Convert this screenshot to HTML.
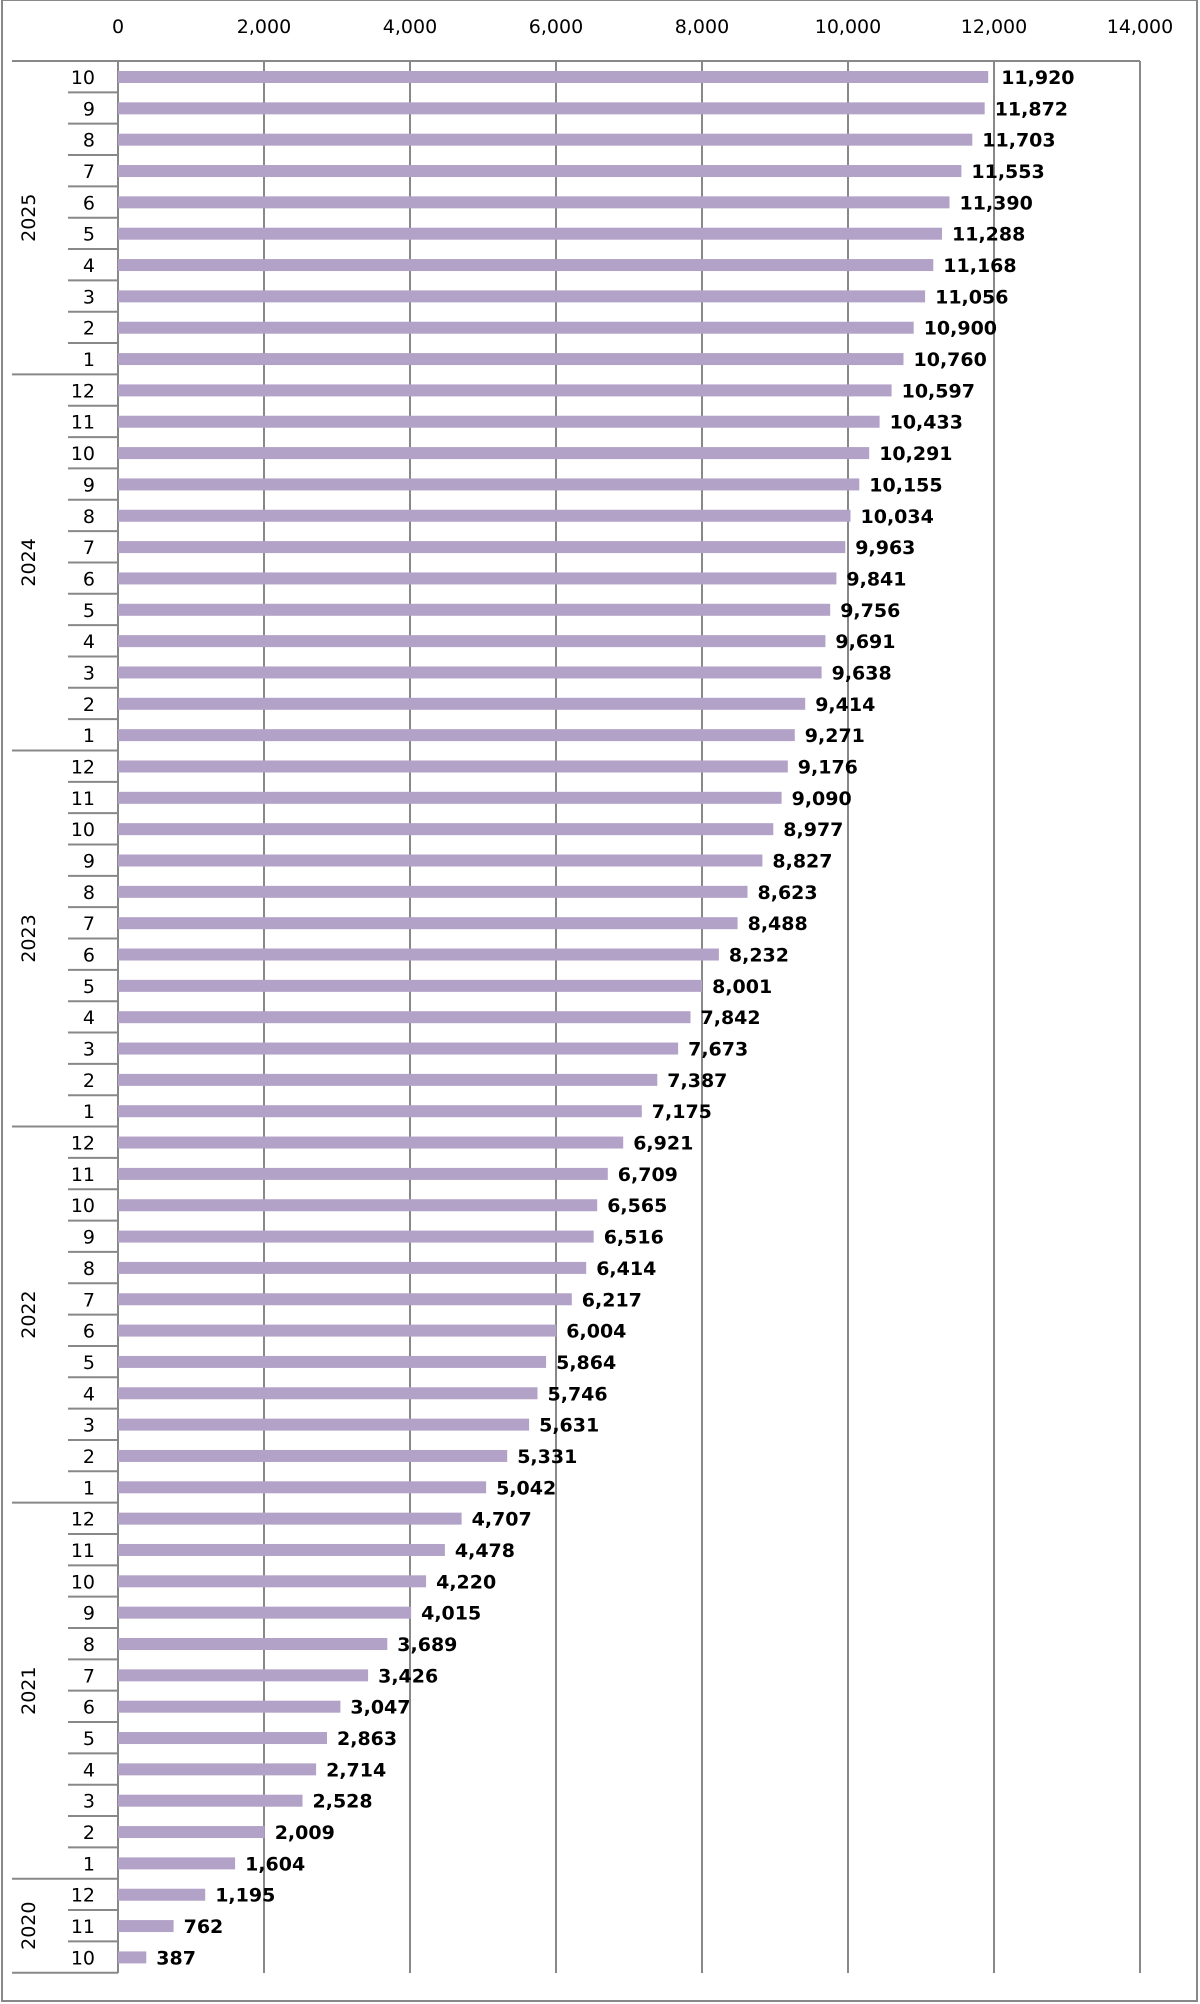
<!DOCTYPE html>
<html><head><meta charset="utf-8"><style>
html,body{margin:0;padding:0;background:#fff;}
svg{display:block;}
.m{font:19px "DejaVu Sans","Liberation Sans",sans-serif;fill:#000;text-anchor:end;}
.v{font:bold 19px "DejaVu Sans","Liberation Sans",sans-serif;fill:#000;}
.a{font:19px "DejaVu Sans","Liberation Sans",sans-serif;fill:#000;text-anchor:middle;}
.y{font:19px "DejaVu Sans","Liberation Sans",sans-serif;fill:#000;text-anchor:middle;}
rect.b{fill:#b3a2c7;}
</style></head><body>
<svg width="1200" height="2004" xmlns="http://www.w3.org/2000/svg">
<rect x="2" y="0" width="1195" height="2001" fill="#fff" stroke="#888" stroke-width="2"/>
<g stroke="#888" stroke-width="2">
<line x1="118" y1="61" x2="118" y2="1973"/>
<line x1="264" y1="61" x2="264" y2="1973"/>
<line x1="410" y1="61" x2="410" y2="1973"/>
<line x1="556" y1="61" x2="556" y2="1973"/>
<line x1="702" y1="61" x2="702" y2="1973"/>
<line x1="848" y1="61" x2="848" y2="1973"/>
<line x1="994" y1="61" x2="994" y2="1973"/>
<line x1="1140" y1="61" x2="1140" y2="1973"/>
<line x1="12" y1="61" x2="1140" y2="61"/>
</g>
<g class="a">
<text x="118" y="33">0</text><text x="264" y="33">2,000</text><text x="410" y="33">4,000</text><text x="556" y="33">6,000</text><text x="702" y="33">8,000</text><text x="848" y="33">10,000</text><text x="994" y="33">12,000</text><text x="1140" y="33">14,000</text>
</g>
<g stroke="#888" stroke-width="2">
<line x1="12" y1="374.4" x2="118" y2="374.4"/><line x1="12" y1="750.48" x2="118" y2="750.48"/><line x1="12" y1="1126.56" x2="118" y2="1126.56"/><line x1="12" y1="1502.64" x2="118" y2="1502.64"/><line x1="12" y1="1878.72" x2="118" y2="1878.72"/><line x1="12" y1="1972.74" x2="118" y2="1972.74"/>
</g>
<g class="y">
<text transform="translate(35,217.7) rotate(-90)">2025</text>
<text transform="translate(35,562.4) rotate(-90)">2024</text>
<text transform="translate(35,938.5) rotate(-90)">2023</text>
<text transform="translate(35,1314.6) rotate(-90)">2022</text>
<text transform="translate(35,1690.7) rotate(-90)">2021</text>
<text transform="translate(35,1925.7) rotate(-90)">2020</text>
</g>
<g id="rows">
<g transform="translate(0,61)"><rect class="b" x="118" y="10" width="870.2" height="12"/><text class="m" x="95" y="23">10</text><text class="v" x="131" y="23" transform="translate(870.2)">11,920</text></g>
<g transform="translate(0,92.34)"><line x1="68" x2="118" y1="0" y2="0" stroke="#888" stroke-width="2"/><rect class="b" x="118" y="10" width="866.7" height="12"/><text class="m" x="95" y="23">9</text><text class="v" x="128" y="23" transform="translate(866.7)">11,872</text></g>
<g transform="translate(0,123.68)"><line x1="68" x2="118" y1="0" y2="0" stroke="#888" stroke-width="2"/><rect class="b" x="118" y="10" width="854.3" height="12"/><text class="m" x="95" y="23">8</text><text class="v" x="128" y="23" transform="translate(854.3)">11,703</text></g>
<g transform="translate(0,155.02)"><line x1="68" x2="118" y1="0" y2="0" stroke="#888" stroke-width="2"/><rect class="b" x="118" y="10" width="843.4" height="12"/><text class="m" x="95" y="23">7</text><text class="v" x="128" y="23" transform="translate(843.4)">11,553</text></g>
<g transform="translate(0,186.36)"><line x1="68" x2="118" y1="0" y2="0" stroke="#888" stroke-width="2"/><rect class="b" x="118" y="10" width="831.5" height="12"/><text class="m" x="95" y="23">6</text><text class="v" x="128" y="23" transform="translate(831.5)">11,390</text></g>
<g transform="translate(0,217.7)"><line x1="68" x2="118" y1="0" y2="0" stroke="#888" stroke-width="2"/><rect class="b" x="118" y="10" width="824.0" height="12"/><text class="m" x="95" y="23">5</text><text class="v" x="128" y="23" transform="translate(824.0)">11,288</text></g>
<g transform="translate(0,249.04)"><line x1="68" x2="118" y1="0" y2="0" stroke="#888" stroke-width="2"/><rect class="b" x="118" y="10" width="815.3" height="12"/><text class="m" x="95" y="23">4</text><text class="v" x="128" y="23" transform="translate(815.3)">11,168</text></g>
<g transform="translate(0,280.38)"><line x1="68" x2="118" y1="0" y2="0" stroke="#888" stroke-width="2"/><rect class="b" x="118" y="10" width="807.1" height="12"/><text class="m" x="95" y="23">3</text><text class="v" x="128" y="23" transform="translate(807.1)">11,056</text></g>
<g transform="translate(0,311.72)"><line x1="68" x2="118" y1="0" y2="0" stroke="#888" stroke-width="2"/><rect class="b" x="118" y="10" width="795.7" height="12"/><text class="m" x="95" y="23">2</text><text class="v" x="128" y="23" transform="translate(795.7)">10,900</text></g>
<g transform="translate(0,343.06)"><line x1="68" x2="118" y1="0" y2="0" stroke="#888" stroke-width="2"/><rect class="b" x="118" y="10" width="785.5" height="12"/><text class="m" x="95" y="23">1</text><text class="v" x="128" y="23" transform="translate(785.5)">10,760</text></g>
<g transform="translate(0,374.4)"><rect class="b" x="118" y="10" width="773.6" height="12"/><text class="m" x="95" y="23">12</text><text class="v" x="128" y="23" transform="translate(773.6)">10,597</text></g>
<g transform="translate(0,405.74)"><line x1="68" x2="118" y1="0" y2="0" stroke="#888" stroke-width="2"/><rect class="b" x="118" y="10" width="761.6" height="12"/><text class="m" x="95" y="23">11</text><text class="v" x="128" y="23" transform="translate(761.6)">10,433</text></g>
<g transform="translate(0,437.08)"><line x1="68" x2="118" y1="0" y2="0" stroke="#888" stroke-width="2"/><rect class="b" x="118" y="10" width="751.2" height="12"/><text class="m" x="95" y="23">10</text><text class="v" x="128" y="23" transform="translate(751.2)">10,291</text></g>
<g transform="translate(0,468.42)"><line x1="68" x2="118" y1="0" y2="0" stroke="#888" stroke-width="2"/><rect class="b" x="118" y="10" width="741.3" height="12"/><text class="m" x="95" y="23">9</text><text class="v" x="128" y="23" transform="translate(741.3)">10,155</text></g>
<g transform="translate(0,499.76)"><line x1="68" x2="118" y1="0" y2="0" stroke="#888" stroke-width="2"/><rect class="b" x="118" y="10" width="732.5" height="12"/><text class="m" x="95" y="23">8</text><text class="v" x="128" y="23" transform="translate(732.5)">10,034</text></g>
<g transform="translate(0,531.1)"><line x1="68" x2="118" y1="0" y2="0" stroke="#888" stroke-width="2"/><rect class="b" x="118" y="10" width="727.3" height="12"/><text class="m" x="95" y="23">7</text><text class="v" x="128" y="23" transform="translate(727.3)">9,963</text></g>
<g transform="translate(0,562.44)"><line x1="68" x2="118" y1="0" y2="0" stroke="#888" stroke-width="2"/><rect class="b" x="118" y="10" width="718.4" height="12"/><text class="m" x="95" y="23">6</text><text class="v" x="128" y="23" transform="translate(718.4)">9,841</text></g>
<g transform="translate(0,593.78)"><line x1="68" x2="118" y1="0" y2="0" stroke="#888" stroke-width="2"/><rect class="b" x="118" y="10" width="712.2" height="12"/><text class="m" x="95" y="23">5</text><text class="v" x="128" y="23" transform="translate(712.2)">9,756</text></g>
<g transform="translate(0,625.12)"><line x1="68" x2="118" y1="0" y2="0" stroke="#888" stroke-width="2"/><rect class="b" x="118" y="10" width="707.4" height="12"/><text class="m" x="95" y="23">4</text><text class="v" x="128" y="23" transform="translate(707.4)">9,691</text></g>
<g transform="translate(0,656.46)"><line x1="68" x2="118" y1="0" y2="0" stroke="#888" stroke-width="2"/><rect class="b" x="118" y="10" width="703.6" height="12"/><text class="m" x="95" y="23">3</text><text class="v" x="128" y="23" transform="translate(703.6)">9,638</text></g>
<g transform="translate(0,687.8)"><line x1="68" x2="118" y1="0" y2="0" stroke="#888" stroke-width="2"/><rect class="b" x="118" y="10" width="687.2" height="12"/><text class="m" x="95" y="23">2</text><text class="v" x="128" y="23" transform="translate(687.2)">9,414</text></g>
<g transform="translate(0,719.14)"><line x1="68" x2="118" y1="0" y2="0" stroke="#888" stroke-width="2"/><rect class="b" x="118" y="10" width="676.8" height="12"/><text class="m" x="95" y="23">1</text><text class="v" x="128" y="23" transform="translate(676.8)">9,271</text></g>
<g transform="translate(0,750.48)"><rect class="b" x="118" y="10" width="669.8" height="12"/><text class="m" x="95" y="23">12</text><text class="v" x="128" y="23" transform="translate(669.8)">9,176</text></g>
<g transform="translate(0,781.82)"><line x1="68" x2="118" y1="0" y2="0" stroke="#888" stroke-width="2"/><rect class="b" x="118" y="10" width="663.6" height="12"/><text class="m" x="95" y="23">11</text><text class="v" x="128" y="23" transform="translate(663.6)">9,090</text></g>
<g transform="translate(0,813.16)"><line x1="68" x2="118" y1="0" y2="0" stroke="#888" stroke-width="2"/><rect class="b" x="118" y="10" width="655.3" height="12"/><text class="m" x="95" y="23">10</text><text class="v" x="128" y="23" transform="translate(655.3)">8,977</text></g>
<g transform="translate(0,844.5)"><line x1="68" x2="118" y1="0" y2="0" stroke="#888" stroke-width="2"/><rect class="b" x="118" y="10" width="644.4" height="12"/><text class="m" x="95" y="23">9</text><text class="v" x="128" y="23" transform="translate(644.4)">8,827</text></g>
<g transform="translate(0,875.84)"><line x1="68" x2="118" y1="0" y2="0" stroke="#888" stroke-width="2"/><rect class="b" x="118" y="10" width="629.5" height="12"/><text class="m" x="95" y="23">8</text><text class="v" x="128" y="23" transform="translate(629.5)">8,623</text></g>
<g transform="translate(0,907.18)"><line x1="68" x2="118" y1="0" y2="0" stroke="#888" stroke-width="2"/><rect class="b" x="118" y="10" width="619.6" height="12"/><text class="m" x="95" y="23">7</text><text class="v" x="128" y="23" transform="translate(619.6)">8,488</text></g>
<g transform="translate(0,938.52)"><line x1="68" x2="118" y1="0" y2="0" stroke="#888" stroke-width="2"/><rect class="b" x="118" y="10" width="600.9" height="12"/><text class="m" x="95" y="23">6</text><text class="v" x="128" y="23" transform="translate(600.9)">8,232</text></g>
<g transform="translate(0,969.86)"><line x1="68" x2="118" y1="0" y2="0" stroke="#888" stroke-width="2"/><rect class="b" x="118" y="10" width="584.1" height="12"/><text class="m" x="95" y="23">5</text><text class="v" x="128" y="23" transform="translate(584.1)">8,001</text></g>
<g transform="translate(0,1001.2)"><line x1="68" x2="118" y1="0" y2="0" stroke="#888" stroke-width="2"/><rect class="b" x="118" y="10" width="572.5" height="12"/><text class="m" x="95" y="23">4</text><text class="v" x="128" y="23" transform="translate(572.5)">7,842</text></g>
<g transform="translate(0,1032.54)"><line x1="68" x2="118" y1="0" y2="0" stroke="#888" stroke-width="2"/><rect class="b" x="118" y="10" width="560.1" height="12"/><text class="m" x="95" y="23">3</text><text class="v" x="128" y="23" transform="translate(560.1)">7,673</text></g>
<g transform="translate(0,1063.88)"><line x1="68" x2="118" y1="0" y2="0" stroke="#888" stroke-width="2"/><rect class="b" x="118" y="10" width="539.3" height="12"/><text class="m" x="95" y="23">2</text><text class="v" x="128" y="23" transform="translate(539.3)">7,387</text></g>
<g transform="translate(0,1095.22)"><line x1="68" x2="118" y1="0" y2="0" stroke="#888" stroke-width="2"/><rect class="b" x="118" y="10" width="523.8" height="12"/><text class="m" x="95" y="23">1</text><text class="v" x="128" y="23" transform="translate(523.8)">7,175</text></g>
<g transform="translate(0,1126.56)"><rect class="b" x="118" y="10" width="505.2" height="12"/><text class="m" x="95" y="23">12</text><text class="v" x="128" y="23" transform="translate(505.2)">6,921</text></g>
<g transform="translate(0,1157.9)"><line x1="68" x2="118" y1="0" y2="0" stroke="#888" stroke-width="2"/><rect class="b" x="118" y="10" width="489.8" height="12"/><text class="m" x="95" y="23">11</text><text class="v" x="128" y="23" transform="translate(489.8)">6,709</text></g>
<g transform="translate(0,1189.24)"><line x1="68" x2="118" y1="0" y2="0" stroke="#888" stroke-width="2"/><rect class="b" x="118" y="10" width="479.2" height="12"/><text class="m" x="95" y="23">10</text><text class="v" x="128" y="23" transform="translate(479.2)">6,565</text></g>
<g transform="translate(0,1220.58)"><line x1="68" x2="118" y1="0" y2="0" stroke="#888" stroke-width="2"/><rect class="b" x="118" y="10" width="475.7" height="12"/><text class="m" x="95" y="23">9</text><text class="v" x="128" y="23" transform="translate(475.7)">6,516</text></g>
<g transform="translate(0,1251.92)"><line x1="68" x2="118" y1="0" y2="0" stroke="#888" stroke-width="2"/><rect class="b" x="118" y="10" width="468.2" height="12"/><text class="m" x="95" y="23">8</text><text class="v" x="128" y="23" transform="translate(468.2)">6,414</text></g>
<g transform="translate(0,1283.26)"><line x1="68" x2="118" y1="0" y2="0" stroke="#888" stroke-width="2"/><rect class="b" x="118" y="10" width="453.8" height="12"/><text class="m" x="95" y="23">7</text><text class="v" x="128" y="23" transform="translate(453.8)">6,217</text></g>
<g transform="translate(0,1314.6)"><line x1="68" x2="118" y1="0" y2="0" stroke="#888" stroke-width="2"/><rect class="b" x="118" y="10" width="438.3" height="12"/><text class="m" x="95" y="23">6</text><text class="v" x="128" y="23" transform="translate(438.3)">6,004</text></g>
<g transform="translate(0,1345.94)"><line x1="68" x2="118" y1="0" y2="0" stroke="#888" stroke-width="2"/><rect class="b" x="118" y="10" width="428.1" height="12"/><text class="m" x="95" y="23">5</text><text class="v" x="128" y="23" transform="translate(428.1)">5,864</text></g>
<g transform="translate(0,1377.28)"><line x1="68" x2="118" y1="0" y2="0" stroke="#888" stroke-width="2"/><rect class="b" x="118" y="10" width="419.5" height="12"/><text class="m" x="95" y="23">4</text><text class="v" x="128" y="23" transform="translate(419.5)">5,746</text></g>
<g transform="translate(0,1408.62)"><line x1="68" x2="118" y1="0" y2="0" stroke="#888" stroke-width="2"/><rect class="b" x="118" y="10" width="411.1" height="12"/><text class="m" x="95" y="23">3</text><text class="v" x="128" y="23" transform="translate(411.1)">5,631</text></g>
<g transform="translate(0,1439.96)"><line x1="68" x2="118" y1="0" y2="0" stroke="#888" stroke-width="2"/><rect class="b" x="118" y="10" width="389.2" height="12"/><text class="m" x="95" y="23">2</text><text class="v" x="128" y="23" transform="translate(389.2)">5,331</text></g>
<g transform="translate(0,1471.3)"><line x1="68" x2="118" y1="0" y2="0" stroke="#888" stroke-width="2"/><rect class="b" x="118" y="10" width="368.1" height="12"/><text class="m" x="95" y="23">1</text><text class="v" x="128" y="23" transform="translate(368.1)">5,042</text></g>
<g transform="translate(0,1502.64)"><rect class="b" x="118" y="10" width="343.6" height="12"/><text class="m" x="95" y="23">12</text><text class="v" x="128" y="23" transform="translate(343.6)">4,707</text></g>
<g transform="translate(0,1533.98)"><line x1="68" x2="118" y1="0" y2="0" stroke="#888" stroke-width="2"/><rect class="b" x="118" y="10" width="326.9" height="12"/><text class="m" x="95" y="23">11</text><text class="v" x="128" y="23" transform="translate(326.9)">4,478</text></g>
<g transform="translate(0,1565.32)"><line x1="68" x2="118" y1="0" y2="0" stroke="#888" stroke-width="2"/><rect class="b" x="118" y="10" width="308.1" height="12"/><text class="m" x="95" y="23">10</text><text class="v" x="128" y="23" transform="translate(308.1)">4,220</text></g>
<g transform="translate(0,1596.66)"><line x1="68" x2="118" y1="0" y2="0" stroke="#888" stroke-width="2"/><rect class="b" x="118" y="10" width="293.1" height="12"/><text class="m" x="95" y="23">9</text><text class="v" x="128" y="23" transform="translate(293.1)">4,015</text></g>
<g transform="translate(0,1628)"><line x1="68" x2="118" y1="0" y2="0" stroke="#888" stroke-width="2"/><rect class="b" x="118" y="10" width="269.3" height="12"/><text class="m" x="95" y="23">8</text><text class="v" x="128" y="23" transform="translate(269.3)">3,689</text></g>
<g transform="translate(0,1659.34)"><line x1="68" x2="118" y1="0" y2="0" stroke="#888" stroke-width="2"/><rect class="b" x="118" y="10" width="250.1" height="12"/><text class="m" x="95" y="23">7</text><text class="v" x="128" y="23" transform="translate(250.1)">3,426</text></g>
<g transform="translate(0,1690.68)"><line x1="68" x2="118" y1="0" y2="0" stroke="#888" stroke-width="2"/><rect class="b" x="118" y="10" width="222.4" height="12"/><text class="m" x="95" y="23">6</text><text class="v" x="128" y="23" transform="translate(222.4)">3,047</text></g>
<g transform="translate(0,1722.02)"><line x1="68" x2="118" y1="0" y2="0" stroke="#888" stroke-width="2"/><rect class="b" x="118" y="10" width="209.0" height="12"/><text class="m" x="95" y="23">5</text><text class="v" x="128" y="23" transform="translate(209.0)">2,863</text></g>
<g transform="translate(0,1753.36)"><line x1="68" x2="118" y1="0" y2="0" stroke="#888" stroke-width="2"/><rect class="b" x="118" y="10" width="198.1" height="12"/><text class="m" x="95" y="23">4</text><text class="v" x="128" y="23" transform="translate(198.1)">2,714</text></g>
<g transform="translate(0,1784.7)"><line x1="68" x2="118" y1="0" y2="0" stroke="#888" stroke-width="2"/><rect class="b" x="118" y="10" width="184.5" height="12"/><text class="m" x="95" y="23">3</text><text class="v" x="128" y="23" transform="translate(184.5)">2,528</text></g>
<g transform="translate(0,1816.04)"><line x1="68" x2="118" y1="0" y2="0" stroke="#888" stroke-width="2"/><rect class="b" x="118" y="10" width="146.7" height="12"/><text class="m" x="95" y="23">2</text><text class="v" x="128" y="23" transform="translate(146.7)">2,009</text></g>
<g transform="translate(0,1847.38)"><line x1="68" x2="118" y1="0" y2="0" stroke="#888" stroke-width="2"/><rect class="b" x="118" y="10" width="117.1" height="12"/><text class="m" x="95" y="23">1</text><text class="v" x="128" y="23" transform="translate(117.1)">1,604</text></g>
<g transform="translate(0,1878.72)"><rect class="b" x="118" y="10" width="87.2" height="12"/><text class="m" x="95" y="23">12</text><text class="v" x="128" y="23" transform="translate(87.2)">1,195</text></g>
<g transform="translate(0,1910.06)"><line x1="68" x2="118" y1="0" y2="0" stroke="#888" stroke-width="2"/><rect class="b" x="118" y="10" width="55.6" height="12"/><text class="m" x="95" y="23">11</text><text class="v" x="128" y="23" transform="translate(55.6)">762</text></g>
<g transform="translate(0,1941.4)"><line x1="68" x2="118" y1="0" y2="0" stroke="#888" stroke-width="2"/><rect class="b" x="118" y="10" width="28.3" height="12"/><text class="m" x="95" y="23">10</text><text class="v" x="128" y="23" transform="translate(28.3)">387</text></g>
</g>
</svg>
</body></html>
